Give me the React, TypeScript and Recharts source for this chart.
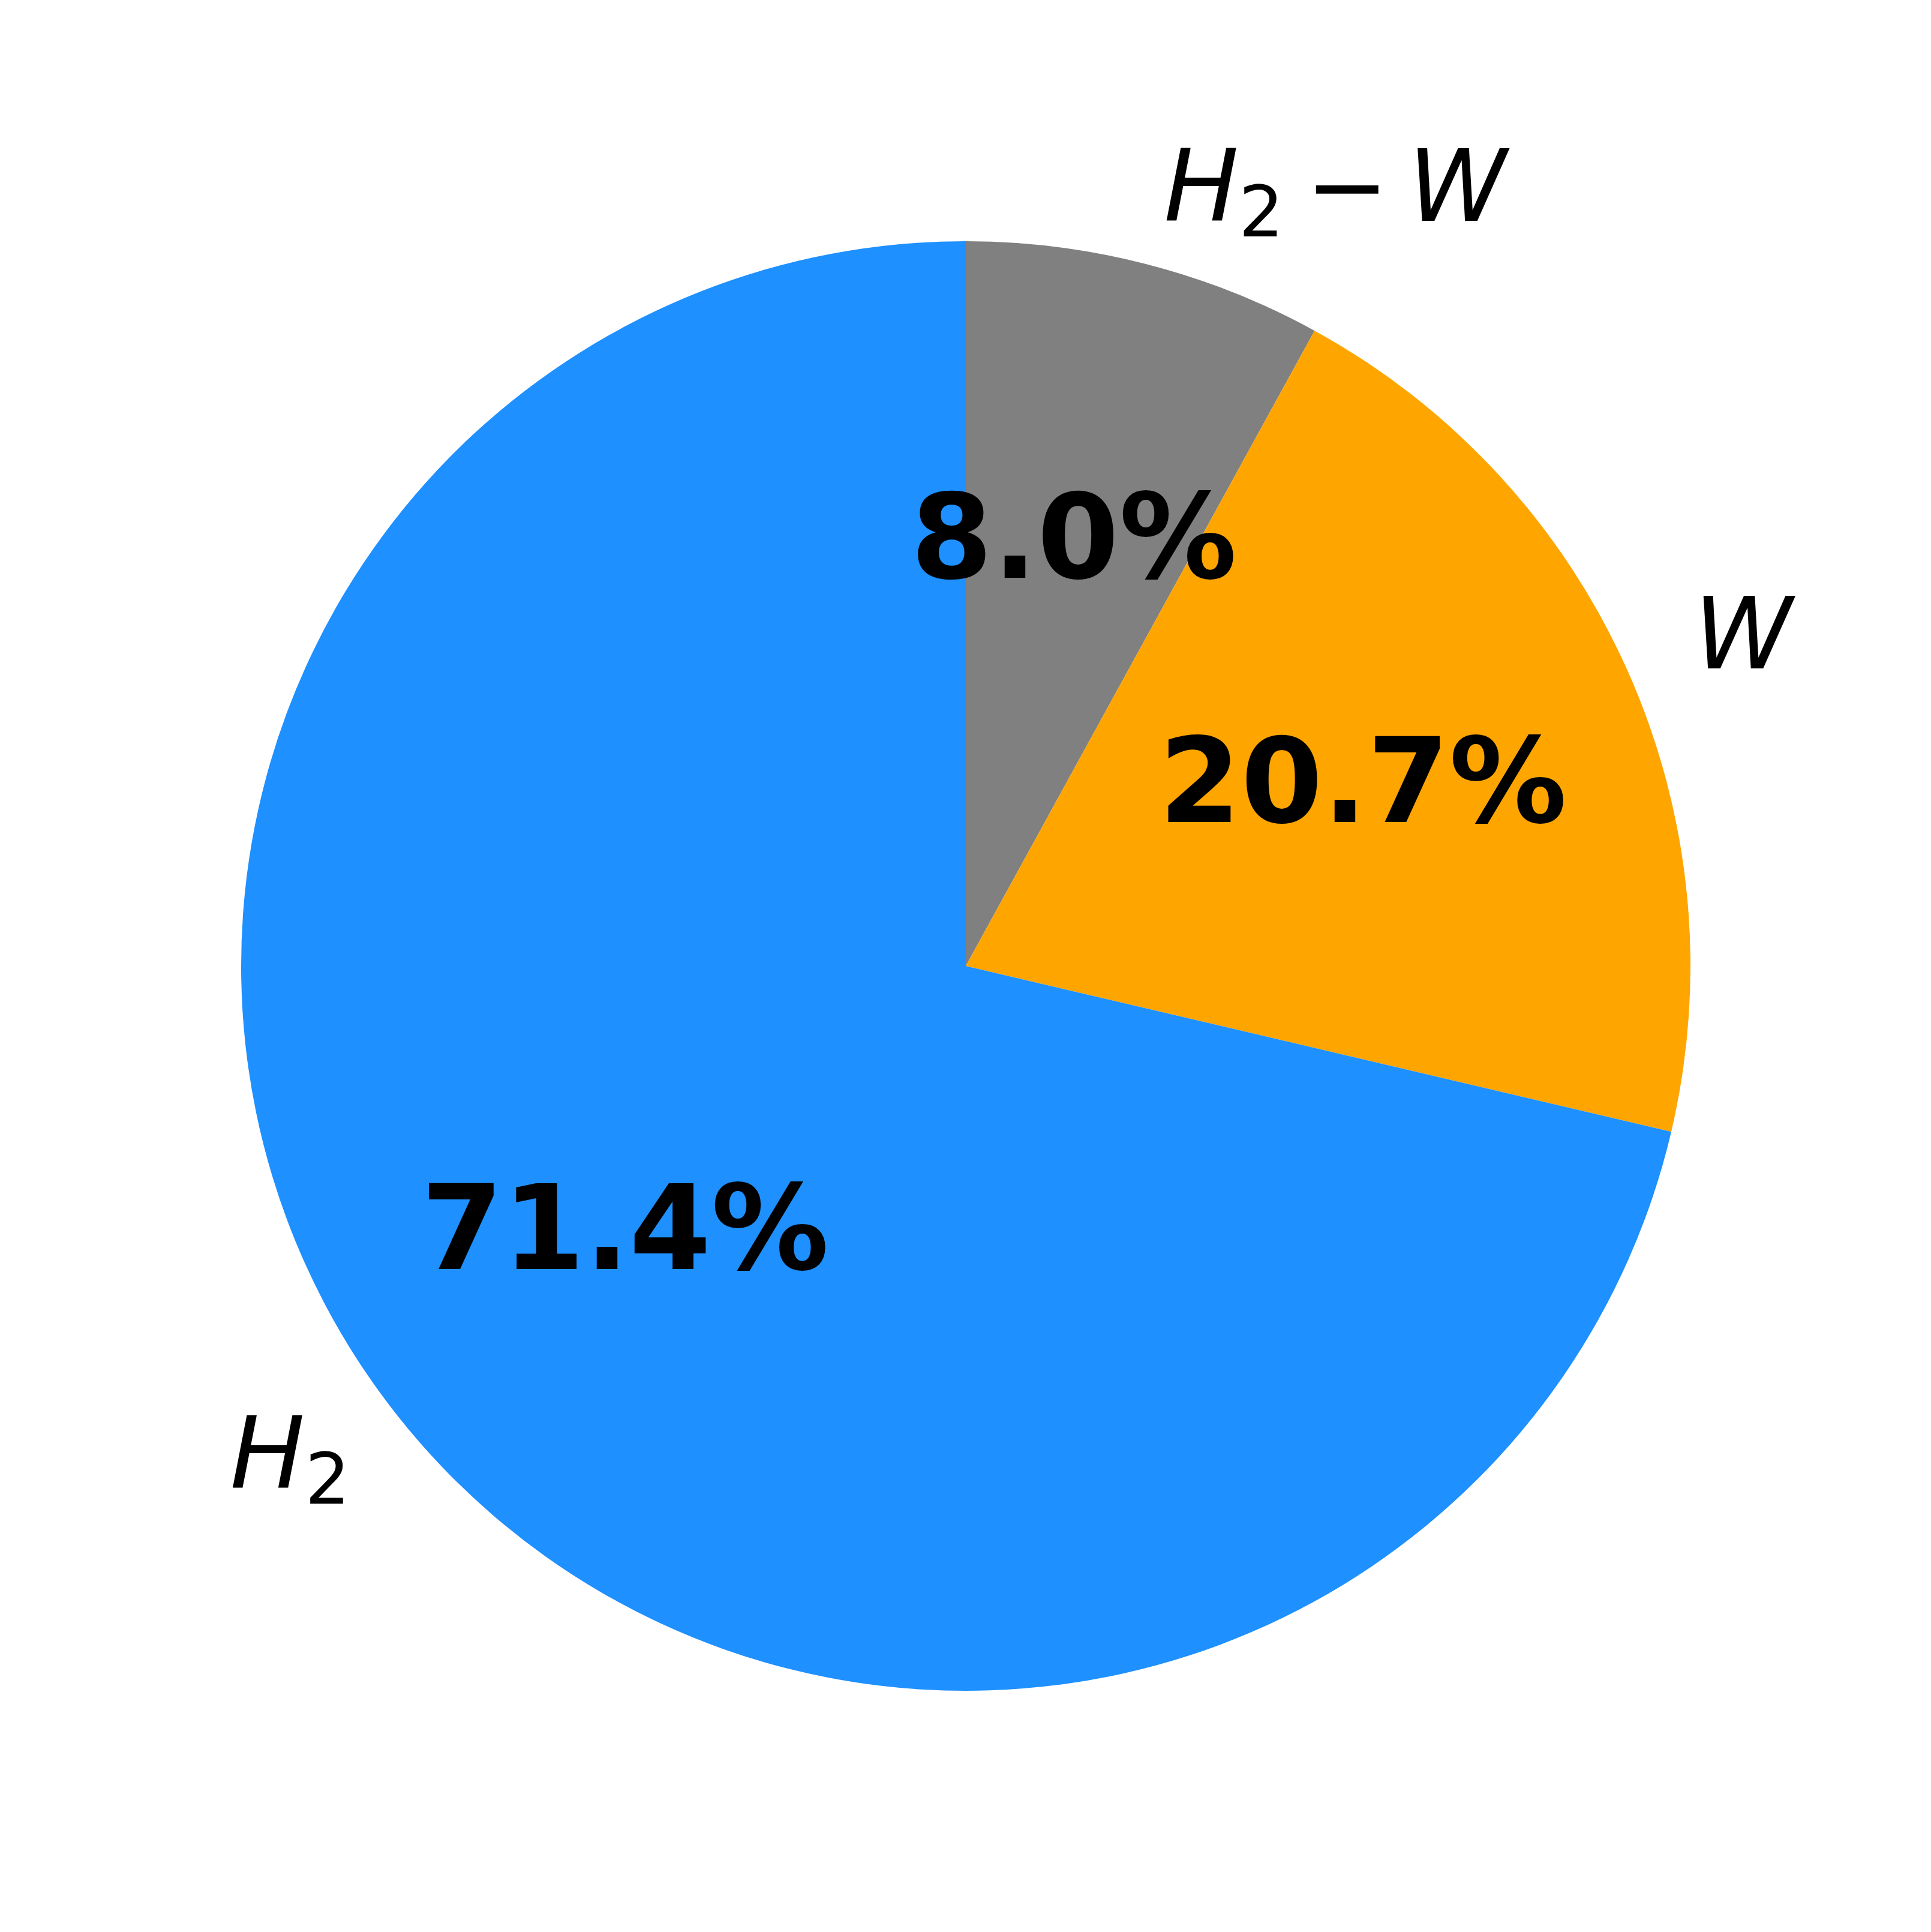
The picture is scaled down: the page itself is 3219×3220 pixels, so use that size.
import React from "react";
import { PieChart, Pie, Cell } from "recharts";

const categories = ["H2-W", "W", "H2"];
const shares = [8.0, 20.7, 71.4];
const colors = ["#808080", "#FFA500", "#1E90FF"];

const data = categories.map((name, i) => ({ name, value: shares[i] }));

const W = 3219;
const H = 3220;
const CX = 1610;
const CY = 1610;
const R = 1208;
const RAD = Math.PI / 180;
const FONT = "'DejaVu Sans', sans-serif";
const LABEL_FS = 166;
const SUB_FS = 118;
const PCT_FS = 196;

function MathLabel({ name, x, y, anchor }: { name: string; x: number; y: number; anchor: "start" | "end" }) {
  const base = y + 45;
  if (name === "H2-W") {
    return (
      <text x={x} y={base} textAnchor={anchor} fontFamily={FONT} fontSize={LABEL_FS} fill="#000">
        <tspan fontStyle="italic">H</tspan>
        <tspan fontSize={SUB_FS} dy={26}>2</tspan>
        <tspan dy={-26} dx={36}>−</tspan>
        <tspan fontStyle="italic" dx={32}>W</tspan>
      </text>
    );
  }
  if (name === "H2") {
    return (
      <text x={x + 15} y={base} textAnchor={anchor} fontFamily={FONT} fontSize={LABEL_FS} fill="#000">
        <tspan fontStyle="italic">H</tspan>
        <tspan fontSize={SUB_FS} dy={26}>2</tspan>
      </text>
    );
  }
  return (
    <text x={x} y={base} textAnchor={anchor} fontFamily={FONT} fontSize={LABEL_FS} fontStyle="italic" fill="#000">
      {name}
    </text>
  );
}

const renderLabel = (props: any) => {
  const { cx, cy, midAngle, outerRadius, index } = props;
  const c = Math.cos(-midAngle * RAD);
  const s = Math.sin(-midAngle * RAD);
  const ox = cx + outerRadius * 1.1 * c;
  const oy = cy + outerRadius * 1.1 * s;
  const px = cx + outerRadius * 0.6 * c;
  const py = cy + outerRadius * 0.6 * s;
  const anchor = c >= 0 ? "start" : "end";
  return (
    <g key={`lbl-${index}`}>
      <MathLabel name={categories[index]} x={ox} y={oy} anchor={anchor} />
      <text
        x={px}
        y={py + 55}
        textAnchor="middle"
        fontFamily={FONT}
        fontWeight="bold"
        fontSize={PCT_FS}
        fill="#000"
      >
        {shares[index].toFixed(1) + "%"}
      </text>
    </g>
  );
};

export default function App() {
  return (
    <div style={{ position: "absolute", left: 0, top: 0, width: W, height: H, background: "#fff" }}>
      <PieChart width={W} height={H} margin={{ top: 0, right: 0, bottom: 0, left: 0 }}>
        <Pie
          data={data}
          dataKey="value"
          nameKey="name"
          cx={CX}
          cy={CY}
          innerRadius={0}
          outerRadius={R}
          startAngle={90}
          endAngle={-270}
          stroke="none"
          label={renderLabel}
          labelLine={false}
          isAnimationActive={false}
        >
          {data.map((d, i) => (
            <Cell key={d.name} fill={colors[i]} stroke="none" />
          ))}
        </Pie>
      </PieChart>
    </div>
  );
}
